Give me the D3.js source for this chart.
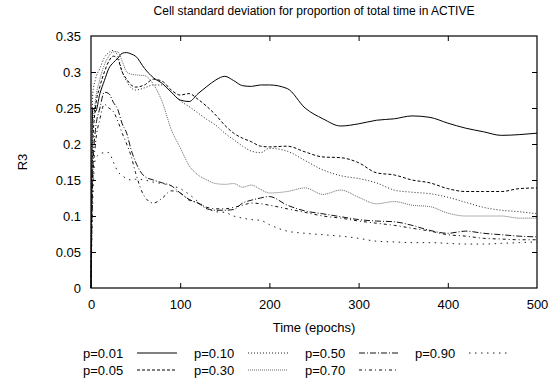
<!DOCTYPE html>
<html>
<head>
<meta charset="utf-8">
<script src="https://d3js.org/d3.v7.min.js"></script>
<style>
    body { margin: 0; background: #fff; }
    text { font-family: "Liberation Sans", Arial, sans-serif; }
</style>
</head>
<body>
<svg id="drawing_region"></svg>
<script>
var Epochs = [0, 2, 5, 10, 15, 20, 25, 30, 35, 40, 45, 50, 60, 70, 80, 90, 100, 110, 120, 130, 140, 150, 160, 170, 180, 190, 200,
    220, 240, 260, 280, 300, 320, 340, 360, 380, 400, 420, 440, 460, 480, 500];

var P001 = [0, 0.25, 0.245, 0.27, 0.288, 0.305, 0.313, 0.319, 0.326, 0.327, 0.325, 0.322, 0.305, 0.292, 0.284, 0.272, 0.261, 0.259, 0.27, 0.28, 0.289, 0.294, 0.288, 0.281, 0.28, 0.282, 0.282,
    0.277, 0.25, 0.235, 0.225, 0.228, 0.233, 0.235, 0.239, 0.237, 0.229, 0.222, 0.217, 0.212, 0.213, 0.215];
var P005 = [0, 0.2, 0.25, 0.28, 0.3, 0.315, 0.322, 0.318, 0.3, 0.29, 0.282, 0.279, 0.282, 0.29, 0.287, 0.275, 0.268, 0.27, 0.262, 0.252, 0.24, 0.226, 0.215, 0.208, 0.203, 0.197, 0.196,
    0.197, 0.189, 0.182, 0.181, 0.174, 0.16, 0.157, 0.15, 0.146, 0.138, 0.134, 0.134, 0.134, 0.138, 0.139];
var P010 = [0, 0.27, 0.29, 0.305, 0.32, 0.327, 0.33, 0.322, 0.3, 0.287, 0.278, 0.275, 0.278, 0.282, 0.282, 0.272, 0.26, 0.252, 0.243, 0.234, 0.226, 0.215, 0.206, 0.197, 0.19, 0.188, 0.194,
    0.19, 0.177, 0.164, 0.156, 0.152, 0.146, 0.136, 0.133, 0.131, 0.126, 0.119, 0.112, 0.108, 0.106, 0.103];
var P030 = [0, 0.22, 0.26, 0.29, 0.31, 0.322, 0.328, 0.328, 0.315, 0.3, 0.297, 0.296, 0.295, 0.283, 0.258, 0.22, 0.195, 0.17, 0.157, 0.15, 0.145, 0.144, 0.145, 0.14, 0.143, 0.137, 0.132,
    0.134, 0.139, 0.13, 0.136, 0.126, 0.117, 0.12, 0.115, 0.113, 0.104, 0.1, 0.1, 0.1, 0.097, 0.097];
var P050 = [0, 0.16, 0.22, 0.25, 0.272, 0.27, 0.258, 0.248, 0.228, 0.215, 0.192, 0.175, 0.155, 0.15, 0.146, 0.142, 0.132, 0.123, 0.118, 0.11, 0.108, 0.108, 0.109, 0.118, 0.122, 0.125, 0.127,
    0.115, 0.107, 0.103, 0.099, 0.095, 0.093, 0.092, 0.087, 0.08, 0.076, 0.079, 0.076, 0.074, 0.072, 0.071];
var P070 = [0, 0.15, 0.2, 0.235, 0.255, 0.25, 0.245, 0.232, 0.215, 0.2, 0.183, 0.16, 0.127, 0.118, 0.125, 0.135, 0.132, 0.122, 0.118, 0.112, 0.11, 0.11, 0.112, 0.115, 0.118, 0.117, 0.115,
    0.11, 0.105, 0.1, 0.097, 0.093, 0.09, 0.087, 0.083, 0.079, 0.074, 0.072, 0.069, 0.068, 0.067, 0.067];
var P090 = [0, 0.12, 0.18, 0.186, 0.188, 0.188, 0.175, 0.162, 0.156, 0.152, 0.15, 0.151, 0.15, 0.147, 0.145, 0.142, 0.138, 0.13, 0.12, 0.111, 0.106, 0.105, 0.1, 0.097, 0.095, 0.094, 0.088,
    0.079, 0.076, 0.074, 0.072, 0.069, 0.065, 0.064, 0.063, 0.063, 0.062, 0.061, 0.061, 0.062, 0.063, 0.064];

var Labels = ['p=0.01', 'p=0.05', 'p=0.10', 'p=0.30', 'p=0.50', 'p=0.70', 'p=0.90'];
var Values = [P001, P005, P010, P030, P050, P070, P090];

var XTicks = [0, 100, 200, 300, 400, 500];
var YTicks = [0, 0.05, 0.1, 0.15, 0.2, 0.25, 0.3, 0.35];

// line styles per series (same order as Labels)
var Styles = [
    { dash: null, color: '#000' },
    { dash: '3,2', color: '#000' },
    { dash: '1,2', color: '#222' },
    { dash: '1,1', color: '#666' },
    { dash: '6,2,1,2', color: '#111' },
    { dash: '3,3,1,3', color: '#111' },
    { dash: '1.5,4.5', color: '#222' }
];

var W = 552, H = 381;
var margin = { top: 36, right: 15, bottom: 93, left: 91 };
var iw = W - margin.left - margin.right;
var ih = H - margin.top - margin.bottom;

var svg = d3.select('#drawing_region')
    .attr('width', W)
    .attr('height', H);

var chart = svg.append('g')
    .attr('transform', `translate(${margin.left}, ${margin.top})`);

var xscale = d3.scaleLinear().domain([0, 500]).range([0, iw]);
var yscale = d3.scaleLinear().domain([0, 0.35]).range([ih, 0]);

// inward ticks on all four sides, gnuplot style
var tick = 5;
var xaxis = chart.append('g')
    .attr('transform', `translate(0, ${ih})`)
    .call(d3.axisBottom(xscale).tickValues(XTicks).tickSize(-tick).tickPadding(12).tickFormat(d3.format('d')));
var xaxisTop = chart.append('g')
    .call(d3.axisTop(xscale).tickValues(XTicks).tickSize(-tick).tickFormat(''));
var yaxis = chart.append('g')
    .call(d3.axisLeft(yscale).tickValues(YTicks).tickSize(-tick).tickPadding(10).tickFormat(d => d === 0 ? '0' : String(+d.toFixed(2))));
var yaxisRight = chart.append('g')
    .attr('transform', `translate(${iw}, 0)`)
    .call(d3.axisRight(yscale).tickValues(YTicks).tickSize(-tick).tickFormat(''));

chart.selectAll('.domain').remove();
chart.selectAll('.tick line').attr('stroke', '#000');
chart.selectAll('.tick text')
    .attr('fill', '#000')
    .style('font-size', '13px')
    .style('font-family', '"Liberation Sans", Arial, sans-serif');
xaxis.selectAll('.tick line').filter(d => d === 0 || d === 500).remove();
xaxisTop.selectAll('.tick line').filter(d => d === 0 || d === 500).remove();
yaxis.selectAll('.tick line').filter(d => d === 0 || d === 0.35).remove();
yaxisRight.selectAll('.tick line').filter(d => d === 0 || d === 0.35).remove();

var line = d3.line()
    .x((d, i) => xscale(Epochs[i]))
    .y(d => yscale(d))
    .curve(d3.curveMonotoneX);

chart.append('g')
    .selectAll('path')
    .data(Values)
    .join('path')
    .attr('d', line)
    .attr('fill', 'none')
    .attr('stroke', (d, i) => Styles[i].color)
    .attr('stroke-width', 1)
    .attr('stroke-dasharray', (d, i) => Styles[i].dash);

chart.append('rect')
    .attr('x', 0).attr('y', 0)
    .attr('width', iw).attr('height', ih)
    .attr('fill', 'none')
    .attr('stroke', '#000')
    .attr('stroke-width', 1.2);

// title and axis labels
svg.append('text')
    .attr('x', margin.left + iw / 2)
    .attr('y', 15)
    .attr('text-anchor', 'middle')
    .style('font-size', '12px')
    .text('Cell standard deviation for proportion of total time in ACTIVE');

svg.append('text')
    .attr('x', margin.left + iw / 2)
    .attr('y', 332)
    .attr('text-anchor', 'middle')
    .style('font-size', '13px')
    .text('Time (epochs)');

svg.append('text')
    .attr('transform', `translate(27, ${margin.top + ih / 2}) rotate(-90)`)
    .attr('text-anchor', 'middle')
    .style('font-size', '13px')
    .text('R3');

// legend: 4 columns, filled down then across
var legend = svg.append('g');
var colX = [83, 194, 305, 415];
var rowY = [353, 370];
Labels.forEach(function (lab, i) {
    var col = Math.floor(i / 2), row = i % 2;
    var g = legend.append('g')
        .attr('transform', `translate(${colX[col]}, ${rowY[row]})`);
    g.append('text')
        .attr('x', 0).attr('y', 5)
        .style('font-size', '13px')
        .text(lab);
    g.append('line')
        .attr('x1', 54).attr('x2', 94)
        .attr('y1', 0).attr('y2', 0)
        .attr('stroke', Styles[i].color)
        .attr('stroke-width', 1)
        .attr('stroke-dasharray', Styles[i].dash);
});
</script>
</body>
</html>
